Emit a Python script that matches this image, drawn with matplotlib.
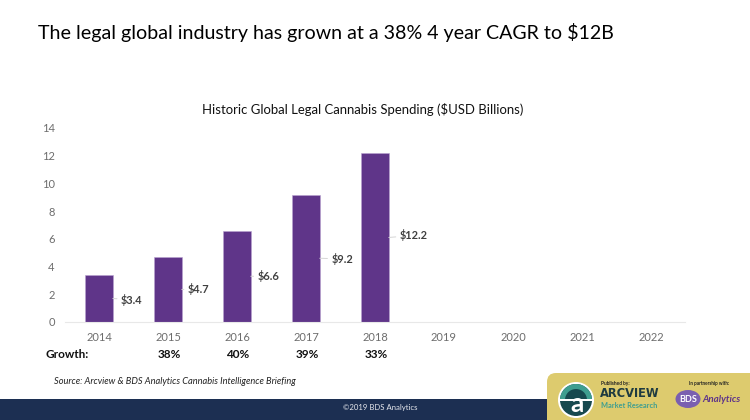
import matplotlib
matplotlib.use('Agg')
import matplotlib.pyplot as plt
from matplotlib.patches import Rectangle, FancyBboxPatch, Circle, Ellipse, Wedge

plt.rcParams['font.family'] = ['Lato', 'DejaVu Sans']

years = ['2014', '2015', '2016', '2017', '2018', '2019', '2020', '2021', '2022']
spending = [3.4, 4.7, 6.6, 9.2, 12.2]
labels = ['$3.4', '$4.7', '$6.6', '$9.2', '$12.2']
growth = ['', '38%', '40%', '39%', '33%']
yticks = [0, 2, 4, 6, 8, 10, 12, 14]

# label nudges in points, from the bar edge
label_dx = [6, 4.5, 5, 8.5, 8]
label_dy = [-1, 0, 0, -0.5, 1.5]

W, H = 750, 420
fig = plt.figure(figsize=(7.5, 4.2), dpi=100)

# full figure axes in pixels for the slide stuff
bg = fig.add_axes([0, 0, 1, 1])
bg.set_xlim(0, W)
bg.set_ylim(H, 0)
bg.axis('off')

ax = fig.add_axes([64.5 / W, 1 - 322 / H, 621 / W, 194 / H])
ax.bar(range(len(spending)), spending, width=0.4, color='#5f3589', edgecolor='#b9a3d0', linewidth=0.4)
ax.set_xlim(-0.5, 8.5)
ax.set_ylim(0, 14)
ax.set_xticks(range(len(years)))
ax.set_xticklabels(years)
ax.set_yticks(yticks)
ax.tick_params(length=0, labelsize=8, labelcolor='#6d6d6d', pad=7)
for s in ['top', 'right', 'left']:
    ax.spines[s].set_visible(False)
ax.spines['bottom'].set_color('#e8e8e8')
ax.spines['bottom'].set_linewidth(0.8)
ax.patch.set_alpha(0)

for i, v in enumerate(spending):
    ax.annotate(labels[i], xy=(i + 0.2, v / 2), xytext=(label_dx[i], label_dy[i]), textcoords='offset points',
                fontsize=7.9, fontweight='bold', color='#404040', va='center',
                arrowprops=dict(arrowstyle='-', color='#d5d5d5', lw=0.7, shrinkA=1, shrinkB=0))

# growth row under the axis
bg.text(45, 354.5, 'Growth:', fontsize=8.5, fontweight='bold', color='#111111', va='center')
for i, g in enumerate(growth):
    bg.text(99 + 69 * i + 1, 354.5, g, fontsize=8.5, fontweight='bold', color='#111111', va='center', ha='center')

bg.text(38, 32, 'The legal global industry has grown at a 38% 4 year CAGR to $12B',
        fontsize=14.1, color='#000000', va='center')
bg.text(363, 109, 'Historic Global Legal Cannabis Spending ($USD Billions)',
        fontsize=9.45, color='#111111', va='center', ha='center')
bg.text(54, 381, 'Source: Arcview & BDS Analytics Cannabis Intelligence Briefing',
        fontsize=6.7, style='italic', color='#222222', va='center')

# footer band
bg.add_patch(Rectangle((0, 399), W, 21, color='#1c2f52', lw=0))
bg.text(380, 407.5, '©2019 BDS Analytics', fontsize=5.6, color='#e6e8ee', va='center', ha='center')

# logo box
bg.add_patch(FancyBboxPatch((547, 373), 220, 60, boxstyle='round,pad=0,rounding_size=9',
                            fc='#ddcb6e', ec='none', zorder=2))
bg.add_patch(Circle((576, 400), 18, fc='#ffffff', ec='none', zorder=3))
bg.add_patch(Circle((576, 400), 16, fc='#17494f', ec='none', zorder=4))
bg.add_patch(Wedge((576, 400), 16, 180, 360, width=5, fc='#3f9e90', ec='none', zorder=5))
bg.add_patch(Rectangle((560, 399), 32, 1.5, fc='#ffffff', ec='none', zorder=5))
bg.text(577, 404, 'a', fontsize=19, fontweight='bold', color='#ffffff', va='center', ha='center', zorder=6)
bg.text(601, 384, 'Published by:', fontsize=3.5, fontweight='bold', color='#222222', va='center', zorder=8)
bg.text(600, 393.5, 'ARCVIEW', fontsize=8.3, fontweight='bold', family='DejaVu Sans', color='#1f3b40', va='center', zorder=8)
bg.text(601, 406, 'Market Research', fontsize=5.3, fontweight='bold', color='#3f9e90', va='center', zorder=8)
bg.text(709.5, 384, 'In partnership with:', fontsize=3.3, fontweight='bold', color='#222222', va='center', ha='center', zorder=8)
bg.add_patch(Ellipse((688, 399), 25, 18, fc='#7a5fb0', ec='none', zorder=6))
bg.text(688, 399, 'BDS', fontsize=6.5, fontweight='bold', color='#ffffff', va='center', ha='center', zorder=8)
bg.text(702, 399.5, 'Analytics', fontsize=7, fontweight='bold', style='italic', color='#5f3589', va='center', zorder=8)

fig.savefig('out.png', dpi=100)
